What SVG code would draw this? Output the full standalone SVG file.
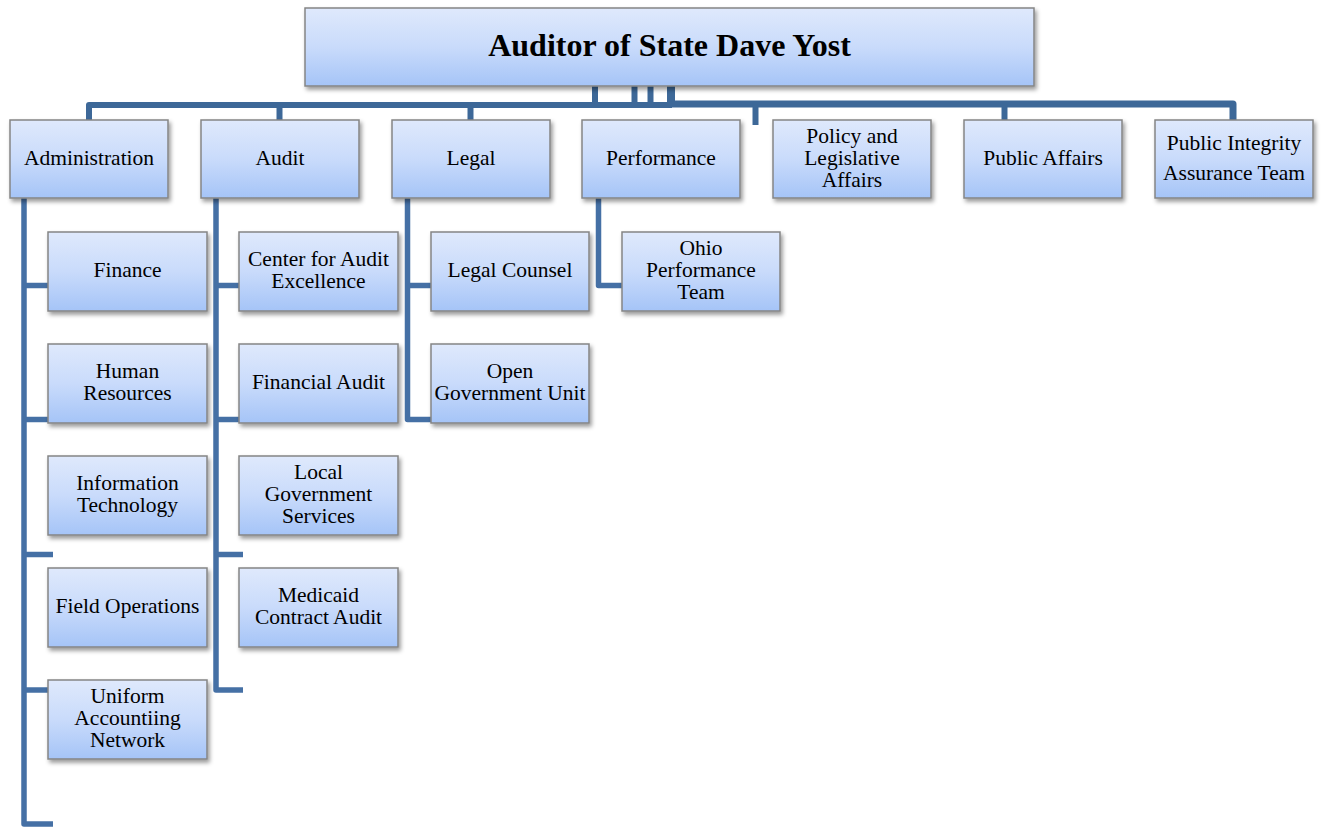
<svg xmlns="http://www.w3.org/2000/svg" width="1322" height="827" viewBox="0 0 1322 827">
<defs>
<linearGradient id="g" x1="0" y1="0" x2="0" y2="1">
<stop offset="0" stop-color="#dfe9fc"/>
<stop offset="0.5" stop-color="#c9dbfb"/>
<stop offset="1" stop-color="#a5c4f7"/>
</linearGradient>
<filter id="sh" x="-10%" y="-10%" width="125%" height="135%">
<feDropShadow dx="2" dy="3" stdDeviation="2" flood-color="#000" flood-opacity="0.4"/>
</filter>
</defs>
<style>
.box{fill:url(#g);stroke:#858585;stroke-width:1.5;filter:url(#sh)}
.t{font-family:"Liberation Serif","Times New Roman",serif;font-size:21.5px;fill:#000;text-anchor:middle}
.title{font-family:"Liberation Serif","Times New Roman",serif;font-size:32px;font-weight:bold;fill:#000;text-anchor:middle}
.c{fill:none;stroke:#4570a5;stroke-width:5.5;stroke-linejoin:round}
.ct{fill:none;stroke:#3d6898;stroke-width:6;stroke-linejoin:round}
</style>
<rect width="1322" height="827" fill="#fff"/>
<g id="connectors">
<path class="ct" d="M89,120 V105 H672"/>
<path class="ct" style="stroke-width:7" d="M668,104 H1233 V120"/>
<path class="ct" d="M595,86 V105"/>
<path class="ct" d="M634.5,86 V105"/>
<path class="ct" d="M650.5,86 V105"/>
<path class="ct" style="stroke-width:8" d="M671,86 V105"/>
<path class="ct" d="M279.5,105 V120"/>
<path class="ct" d="M470.5,105 V120"/>
<path class="ct" d="M755.5,104 V125"/>
<path class="ct" d="M1004.5,104 V120"/>
<path class="c" d="M24,198 V824 H53"/>
<path class="c" d="M24,285.5 H48"/>
<path class="c" d="M24,419.5 H48"/>
<path class="c" d="M24,554.5 H53"/>
<path class="c" d="M24,690 H48"/>
<path class="c" d="M216,198 V690 H243"/>
<path class="c" d="M216,285.5 H239"/>
<path class="c" d="M216,419.5 H239"/>
<path class="c" d="M216,554.5 H243"/>
<path class="c" d="M407.5,198 V419.5 H431"/>
<path class="c" d="M407.5,285.5 H431"/>
<path class="c" d="M598.5,198 V285.5 H622"/>
</g>
<g id="n-auditor"><rect class="box" x="305" y="8" width="729" height="78"/><text class="title" x="669.5" y="56">Auditor of State Dave Yost</text></g>
<g id="n-administration"><rect class="box" x="10" y="120" width="158" height="78"/><text class="t" x="89" y="165">Administration</text></g>
<g id="n-audit"><rect class="box" x="201" y="120" width="158" height="78"/><text class="t" x="280" y="165">Audit</text></g>
<g id="n-legal"><rect class="box" x="392" y="120" width="158" height="78"/><text class="t" x="471" y="165">Legal</text></g>
<g id="n-performance"><rect class="box" x="582" y="120" width="158" height="78"/><text class="t" x="661" y="165">Performance</text></g>
<g id="n-policy"><rect class="box" x="773" y="120" width="158" height="78"/><text class="t" x="852" y="143">Policy and</text><text class="t" x="852" y="165">Legislative</text><text class="t" x="852" y="187">Affairs</text></g>
<g id="n-public-affairs"><rect class="box" x="964" y="120" width="158" height="78"/><text class="t" x="1043" y="165">Public Affairs</text></g>
<g id="n-piat"><rect class="box" x="1155" y="120" width="158" height="78"/><text class="t" x="1234" y="150">Public Integrity</text><text class="t" x="1234" y="180">Assurance Team</text></g>
<g id="n-finance"><rect class="box" x="48" y="232" width="159" height="79"/><text class="t" x="127.5" y="277">Finance</text></g>
<g id="n-hr"><rect class="box" x="48" y="344" width="159" height="79"/><text class="t" x="127.5" y="378">Human</text><text class="t" x="127.5" y="400">Resources</text></g>
<g id="n-it"><rect class="box" x="48" y="456" width="159" height="79"/><text class="t" x="127.5" y="490">Information</text><text class="t" x="127.5" y="512">Technology</text></g>
<g id="n-field"><rect class="box" x="48" y="568" width="159" height="79"/><text class="t" x="127.5" y="613">Field Operations</text></g>
<g id="n-uan"><rect class="box" x="48" y="680" width="159" height="79"/><text class="t" x="127.5" y="703">Uniform</text><text class="t" x="127.5" y="725">Accountiing</text><text class="t" x="127.5" y="747">Network</text></g>
<g id="n-cae"><rect class="box" x="239" y="232" width="159" height="79"/><text class="t" x="318.5" y="266">Center for Audit</text><text class="t" x="318.5" y="288">Excellence</text></g>
<g id="n-fa"><rect class="box" x="239" y="344" width="159" height="79"/><text class="t" x="318.5" y="389">Financial Audit</text></g>
<g id="n-lgs"><rect class="box" x="239" y="456" width="159" height="79"/><text class="t" x="318.5" y="479">Local</text><text class="t" x="318.5" y="501">Government</text><text class="t" x="318.5" y="523">Services</text></g>
<g id="n-mca"><rect class="box" x="239" y="568" width="159" height="79"/><text class="t" x="318.5" y="602">Medicaid</text><text class="t" x="318.5" y="624">Contract Audit</text></g>
<g id="n-counsel"><rect class="box" x="431" y="232" width="158" height="79"/><text class="t" x="510" y="277">Legal Counsel</text></g>
<g id="n-ogu"><rect class="box" x="431" y="344" width="158" height="79"/><text class="t" x="510" y="378">Open</text><text class="t" x="510" y="400">Government Unit</text></g>
<g id="n-opt"><rect class="box" x="622" y="232" width="158" height="79"/><text class="t" x="701" y="255">Ohio</text><text class="t" x="701" y="277">Performance</text><text class="t" x="701" y="299">Team</text></g>
</svg>
